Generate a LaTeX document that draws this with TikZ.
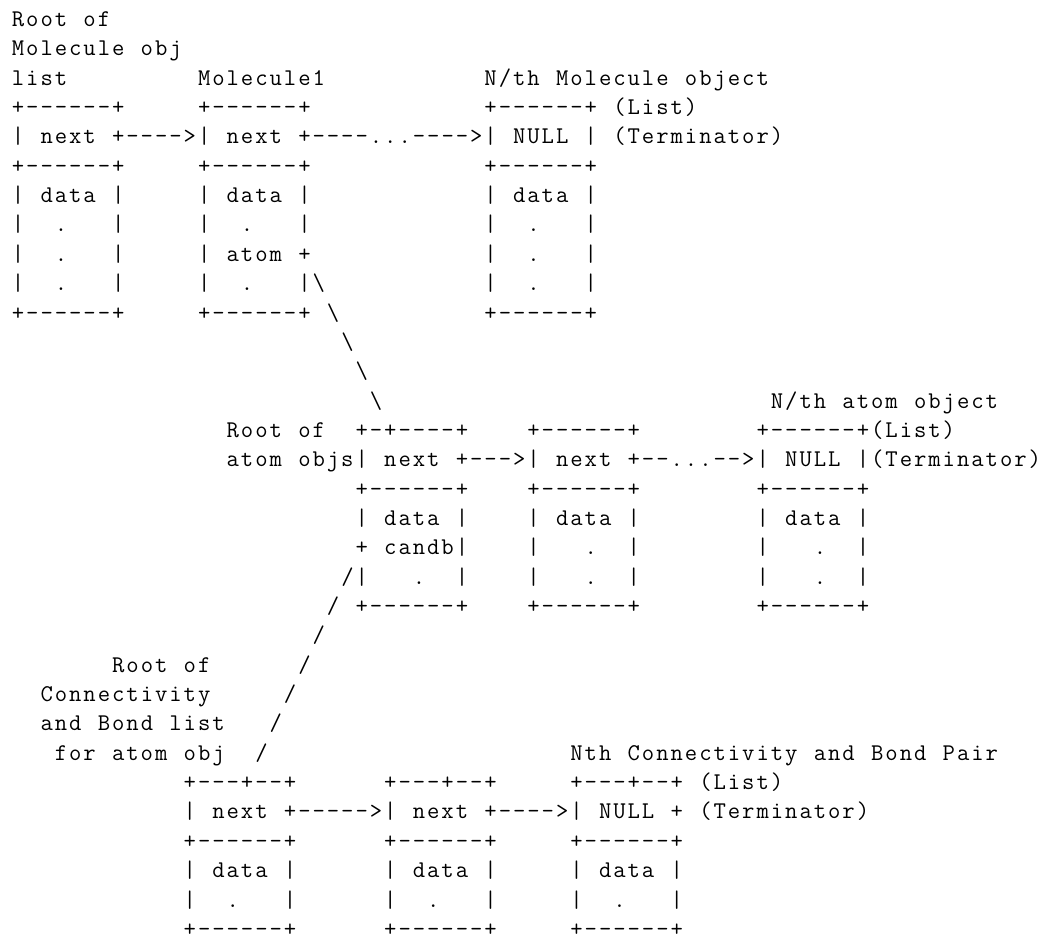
\documentclass[tikz,border=0pt]{standalone}
\newlength\cw \setlength\cw{7.16pt}
\ExplSyntaxOn
\NewDocumentCommand\asc{m}
 {
  \str_map_inline:nn {#1}
   {
    \str_if_eq:eeTF {##1} {\c_tilde_str}
      { \hbox_to_wd:nn {\cw} {\hfil} }
      { \hbox_to_wd:nn {\cw} { \hfil ##1 \hfil } }
   }
 }
\ExplSyntaxOff
\newcommand\bsl{\hbox to\cw{\hfil\textbackslash\hfil}}
\tikzset{
  asc/.style={anchor=base west, inner sep=0pt, outer sep=0pt,
              font=\fontsize{12}{14}\selectfont\ttfamily, text=black}
}
\begin{document}
\begin{tikzpicture}[x=7.16pt, y=-14.675pt]
\useasboundingbox (-0.761,-0.903) rectangle (72.35,30.99);
% --- molecule list
\node[asc] (r0)  at (0,0) {\asc{Root of}};
\node[asc] (r1)  at (0,1) {\asc{Molecule obj}};
\node[asc] (r2a) at (0,2) {\asc{list}};
\node[asc] (r2b) at (13,2) {\asc{Molecule1}};
\node[asc] (r2c) at (33,2) {\asc{N/th Molecule object}};
\node[asc] (r3a) at (0,3) {\asc{+------+}};
\node[asc] (r3b) at (13,3) {\asc{+------+}};
\node[asc] (r3c) at (33,3) {\asc{+------+ (List)}};
\node[asc] (r4)  at (0,4) {\asc{| next +---->| next +----...---->| NULL | (Terminator)}};
\node[asc] (r5a) at (0,5) {\asc{+------+}};
\node[asc] (r5b) at (13,5) {\asc{+------+}};
\node[asc] (r5c) at (33,5) {\asc{+------+}};
\node[asc] (r6a) at (0,6) {\asc{| data |}};
\node[asc] (r6b) at (13,6) {\asc{| data |}};
\node[asc] (r6c) at (33,6) {\asc{| data |}};
\node[asc] (r7a) at (0,7) {\asc{|~~.~~~|}};
\node[asc] (r7b) at (13,7) {\asc{|~~.~~~|}};
\node[asc] (r7c) at (33,7) {\asc{|~~.~~~|}};
\node[asc] (r8a) at (0,8) {\asc{|~~.~~~|}};
\node[asc] (r8b) at (13,8) {\asc{| atom +}};
\node[asc] (r8c) at (33,8) {\asc{|~~.~~~|}};
\node[asc] (r9a) at (0,9) {\asc{|~~.~~~|}};
\node[asc] (r9b) at (13,9) {\asc{|~~.~~~|}};
\node[asc] (r9s) at (21,9) {\bsl};
\node[asc] (r9c) at (33,9) {\asc{|~~.~~~|}};
\node[asc] (r10a) at (0,10) {\asc{+------+}};
\node[asc] (r10b) at (13,10) {\asc{+------+}};
\node[asc] (r10s) at (22,10) {\bsl};
\node[asc] (r10c) at (33,10) {\asc{+------+}};
\node[asc] (r11s) at (23,11) {\bsl};
\node[asc] (r12s) at (24,12) {\bsl};
\node[asc] (r13s) at (25,13) {\bsl};
% --- atom list
\node[asc] (r13c) at (53,13) {\asc{N/th atom object}};
\node[asc] (r14a) at (15,14) {\asc{Root of~~+-+----+}};
\node[asc] (r14b) at (36,14) {\asc{+------+}};
\node[asc] (r14c) at (52,14) {\asc{+------+(List)}};
\node[asc] (r15)  at (15,15) {\asc{atom objs| next +--->| next +--...-->| NULL |(Terminator)}};
\node[asc] (r16a) at (24,16) {\asc{+------+}};
\node[asc] (r16b) at (36,16) {\asc{+------+}};
\node[asc] (r16c) at (52,16) {\asc{+------+}};
\node[asc] (r17a) at (24,17) {\asc{| data |}};
\node[asc] (r17b) at (36,17) {\asc{| data |}};
\node[asc] (r17c) at (52,17) {\asc{| data |}};
\node[asc] (r18a) at (24,18) {\asc{+ candb|}};
\node[asc] (r18b) at (36,18) {\asc{|~~~.~~|}};
\node[asc] (r18c) at (52,18) {\asc{|~~~.~~|}};
\node[asc] (r19a) at (23,19) {\asc{/|~~~.~~|}};
\node[asc] (r19b) at (36,19) {\asc{|~~~.~~|}};
\node[asc] (r19c) at (52,19) {\asc{|~~~.~~|}};
\node[asc] (r20a) at (22,20) {\asc{/ +------+}};
\node[asc] (r20b) at (36,20) {\asc{+------+}};
\node[asc] (r20c) at (52,20) {\asc{+------+}};
\node[asc] (r21s) at (21,21) {\asc{/}};
% --- connectivity and bond list
\node[asc] (r22a) at (7,22) {\asc{Root of}};
\node[asc] (r22s) at (20,22) {\asc{/}};
\node[asc] (r23a) at (2,23) {\asc{Connectivity}};
\node[asc] (r23s) at (19,23) {\asc{/}};
\node[asc] (r24a) at (2,24) {\asc{and Bond list}};
\node[asc] (r24s) at (18,24) {\asc{/}};
\node[asc] (r25a) at (3,25) {\asc{for atom obj}};
\node[asc] (r25s) at (17,25) {\asc{/}};
\node[asc] (r25c) at (39,25) {\asc{Nth Connectivity and Bond Pair}};
\node[asc] (r26a) at (12,26) {\asc{+---+--+}};
\node[asc] (r26b) at (26,26) {\asc{+---+--+}};
\node[asc] (r26c) at (39,26) {\asc{+---+--+ (List)}};
\node[asc] (r27)  at (12,27) {\asc{| next +----->| next +---->| NULL + (Terminator)}};
\node[asc] (r28a) at (12,28) {\asc{+------+}};
\node[asc] (r28b) at (26,28) {\asc{+------+}};
\node[asc] (r28c) at (39,28) {\asc{+------+}};
\node[asc] (r29a) at (12,29) {\asc{| data |}};
\node[asc] (r29b) at (26,29) {\asc{| data |}};
\node[asc] (r29c) at (39,29) {\asc{| data |}};
\node[asc] (r30a) at (12,30) {\asc{|~~.~~~|}};
\node[asc] (r30b) at (26,30) {\asc{|~~.~~~|}};
\node[asc] (r30c) at (39,30) {\asc{|~~.~~~|}};
\node[asc] (r31a) at (12,31) {\asc{+------+}};
\node[asc] (r31b) at (26,31) {\asc{+------+}};
\node[asc] (r31c) at (39,31) {\asc{+------+}};
\end{tikzpicture}
\end{document}
